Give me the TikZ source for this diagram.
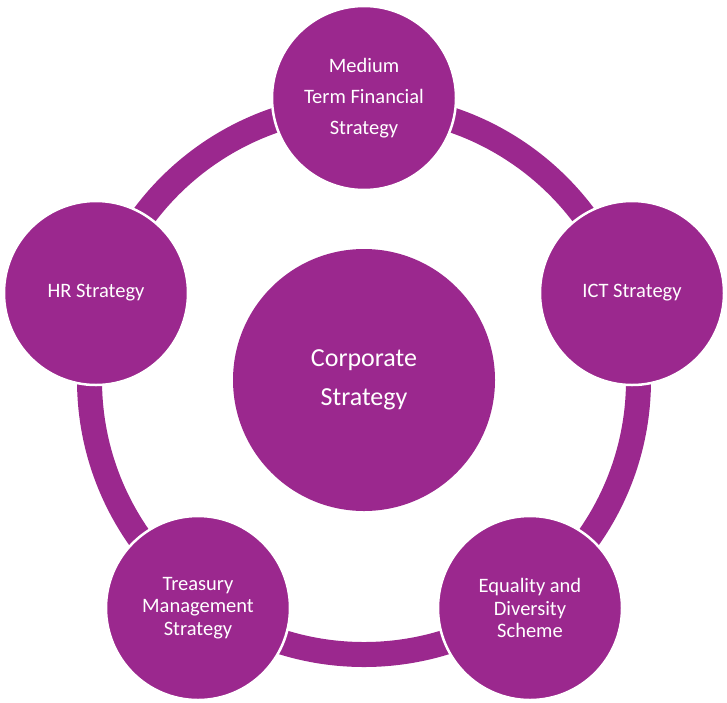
\documentclass[tikz,border=0pt]{standalone}
\usepackage{fontspec}
\setmainfont{Carlito}
\definecolor{smpurple}{RGB}{155,40,142}
\begin{document}
\begin{tikzpicture}[x=1pt,y=1pt,
  outer/.style={circle, fill=smpurple, draw=white, line width=2.5pt, minimum size=184pt, inner sep=0pt, text=white, align=center, font=\fontsize{20.5}{22.5}\selectfont},
  core/.style={circle, fill=smpurple, minimum size=262pt, inner sep=0pt, text=white, align=center, font=\fontsize{26}{39}\selectfont},
  ring/.style={draw=smpurple, line width=25pt}]
\useasboundingbox (0,0) rectangle (727,-702);
\coordinate (c) at (364,-380);
\draw[ring] (c) circle (274.5);
\node[core] (core) at (c) {Corporate\\Strategy};
\node[outer, font=\fontsize{20.5}{31}\selectfont] (mtfs) at (364,-98) {Medium\\Term Financial\\Strategy};
\node[outer] (ict) at (632,-293) {ICT Strategy};
\node[outer] (eq) at (530,-608) {Equality and\\Diversity\\Scheme};
\node[outer] (tr) at (198,-608) {Treasury\\Management\\Strategy};
\node[outer] (hr) at (96,-293) {HR Strategy};
\end{tikzpicture}
\end{document}
